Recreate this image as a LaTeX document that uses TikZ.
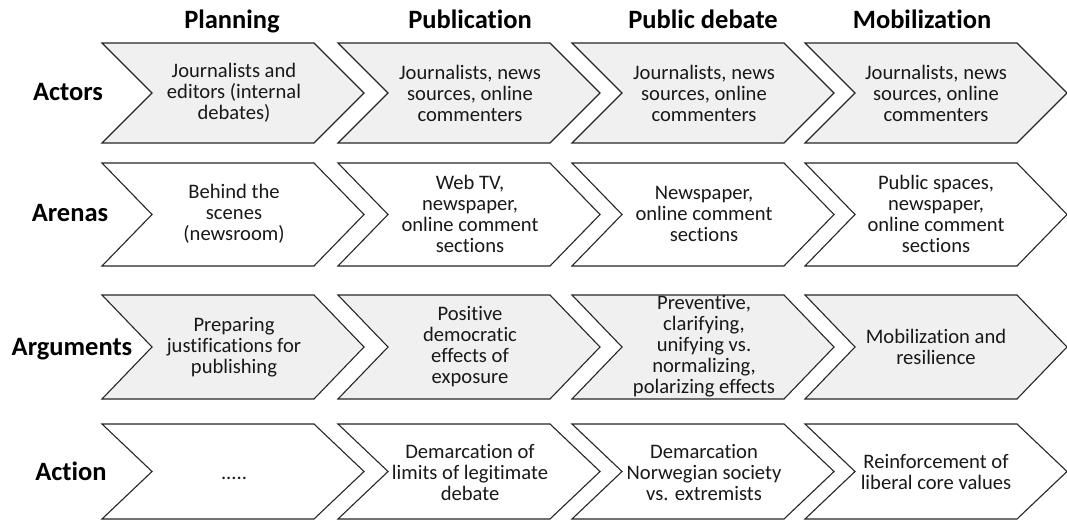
\documentclass[tikz,border=0pt]{standalone}
\usepackage{fontspec}
\setmainfont{Carlito}[Ligatures=NoCommon]
\tikzset{
  chev/.style={draw=black!85, line width=1.1pt, line join=miter},
  shaded/.style={fill=gray!12},
  plain/.style={fill=white},
  body/.style={font=\fontsize{20.6}{21}\selectfont, align=center, text=black!90, inner sep=0pt},
  head/.style={font=\bfseries\fontsize{26.5}{28}\selectfont, text=black, inner sep=0pt, anchor=base},
  lab/.style={font=\bfseries\fontsize{26.5}{28}\selectfont, text=black, inner sep=0pt, anchor=base},
}
\begin{document}
\begin{tikzpicture}[x=1pt,y=-1pt]
\useasboundingbox (0,0) rectangle (1067,521);
% chevrons
\foreach \t/\b/\f in {43/143/shaded, 163/266/plain, 295/399/shaded, 424/519/plain} {
  \foreach \x in {102,338,572,805} {
    \draw[chev, \f] (\x,\t) -- (\x+212,\t) -- (\x+262,{(\t+\b)/2}) -- (\x+212,\b)
      -- (\x,\b) -- (\x+50,{(\t+\b)/2}) -- cycle;
  }
}
% headers
\node[head] (hPlan) at (232,29) {Planning};
\node[head] (hPub) at (470,29) {Publication};
\node[head] (hDeb) at (703,29) {Public debate};
\node[head] (hMob) at (922,29) {Mobilization};
% row labels
\node[lab] (lAct) at (68,101) {Actors};
\node[lab] (lAre) at (70,222) {Arenas};
\node[lab] (lArg) at (72,355) {Arguments};
\node[lab] (lAcn) at (71,480) {Action};
% actors
\node[body] (a1) at (234,93) {Journalists and\\editors (internal\\debates)};
\node[body] (a2) at (470,93) {Journalists, news\\sources, online\\commenters};
\node[body] (a3) at (704,93) {Journalists, news\\sources, online\\commenters};
\node[body] (a4) at (936,93) {Journalists, news\\sources, online\\commenters};
% arenas
\node[body] (r1) at (234,214) {Behind the\\scenes\\(newsroom)};
\node[body] (r2) at (470,214) {Web TV,\\newspaper,\\online comment\\sections};
\node[body] (r3) at (704,214) {Newspaper,\\online comment\\sections};
\node[body] (r4) at (936,214) {Public spaces,\\newspaper,\\online comment\\sections};
% arguments
\node[body] (g1) at (234,347) {Preparing\\justifications for\\publishing};
\node[body] (g2) at (470,347) {Positive\\democratic\\effects of\\exposure};
\node[body] (g3) at (704,346) {Preventive,\\clarifying,\\unifying vs.\\normalizing,\\polarizing effects};
\node[body] (g4) at (936,347) {Mobilization and\\resilience};
% action
\node[body, anchor=base] (c1) at (234,479) {.....};
\node[body] (c2) at (470,472) {Demarcation of\\limits of legitimate\\debate};
\node[body] (c3) at (704,472) {Demarcation\\Norwegian society\\vs. extremists};
\node[body] (c4) at (936,472) {Reinforcement of\\liberal core values};
\end{tikzpicture}
\end{document}
